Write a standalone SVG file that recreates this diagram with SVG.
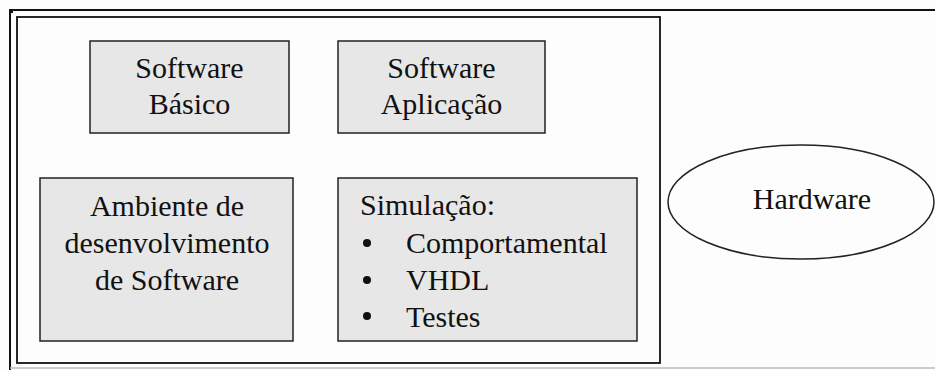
<svg xmlns="http://www.w3.org/2000/svg" width="935" height="370" viewBox="0 0 935 370">
<style>
  .box { fill: #e7e7e7; stroke: #222; stroke-width: 1.5; }
  .t { font-family: "Liberation Serif", "Times New Roman", serif; font-size: 30px; fill: #111; }
  .c { text-anchor: middle; }
</style>
<rect x="0" y="0" width="935" height="370" fill="#fdfdfd"/>
<g id="frame">
  <line x1="10" y1="10" x2="935" y2="10" stroke="#111" stroke-width="2"/>
  <line x1="10" y1="10" x2="10" y2="370" stroke="#111" stroke-width="2"/>
  <line x1="10" y1="368" x2="935" y2="368" stroke="#bbb" stroke-width="1.5"/>
  <rect x="9" y="9" width="4" height="4" fill="#111"/>
</g>
<g id="software-container">
  <rect x="17" y="17" width="643" height="346" fill="#fdfdfd" stroke="#111" stroke-width="1.8"/>
</g>
<g id="software-basico">
  <rect class="box" x="90" y="41" width="199" height="92"/>
  <text class="t c" x="189.5" y="78">Software</text>
  <text class="t c" x="189.5" y="114">Básico</text>
</g>
<g id="software-aplicacao">
  <rect class="box" x="338" y="41" width="207" height="92"/>
  <text class="t c" x="441.5" y="78">Software</text>
  <text class="t c" x="441.5" y="114">Aplicação</text>
</g>
<g id="ambiente">
  <rect class="box" x="40" y="178" width="253" height="163"/>
  <text class="t c" x="167" y="216">Ambiente de</text>
  <text class="t c" x="167" y="253">desenvolvimento</text>
  <text class="t c" x="167" y="290">de Software</text>
</g>
<g id="simulacao">
  <rect class="box" x="338" y="178" width="299" height="163"/>
  <text class="t" x="360" y="215">Simulação:</text>
  <circle cx="367" cy="243" r="4" fill="#111"/>
  <text class="t" x="406" y="253">Comportamental</text>
  <circle cx="367" cy="280" r="4" fill="#111"/>
  <text class="t" x="406" y="290">VHDL</text>
  <circle cx="367" cy="316" r="4" fill="#111"/>
  <text class="t" x="406" y="327">Testes</text>
</g>
<g id="hardware">
  <ellipse cx="801" cy="202" rx="133" ry="57" fill="#fdfdfd" stroke="#222" stroke-width="1.5"/>
  <text class="t c" x="812" y="209">Hardware</text>
</g>
<g id="connectors"></g>
</svg>
